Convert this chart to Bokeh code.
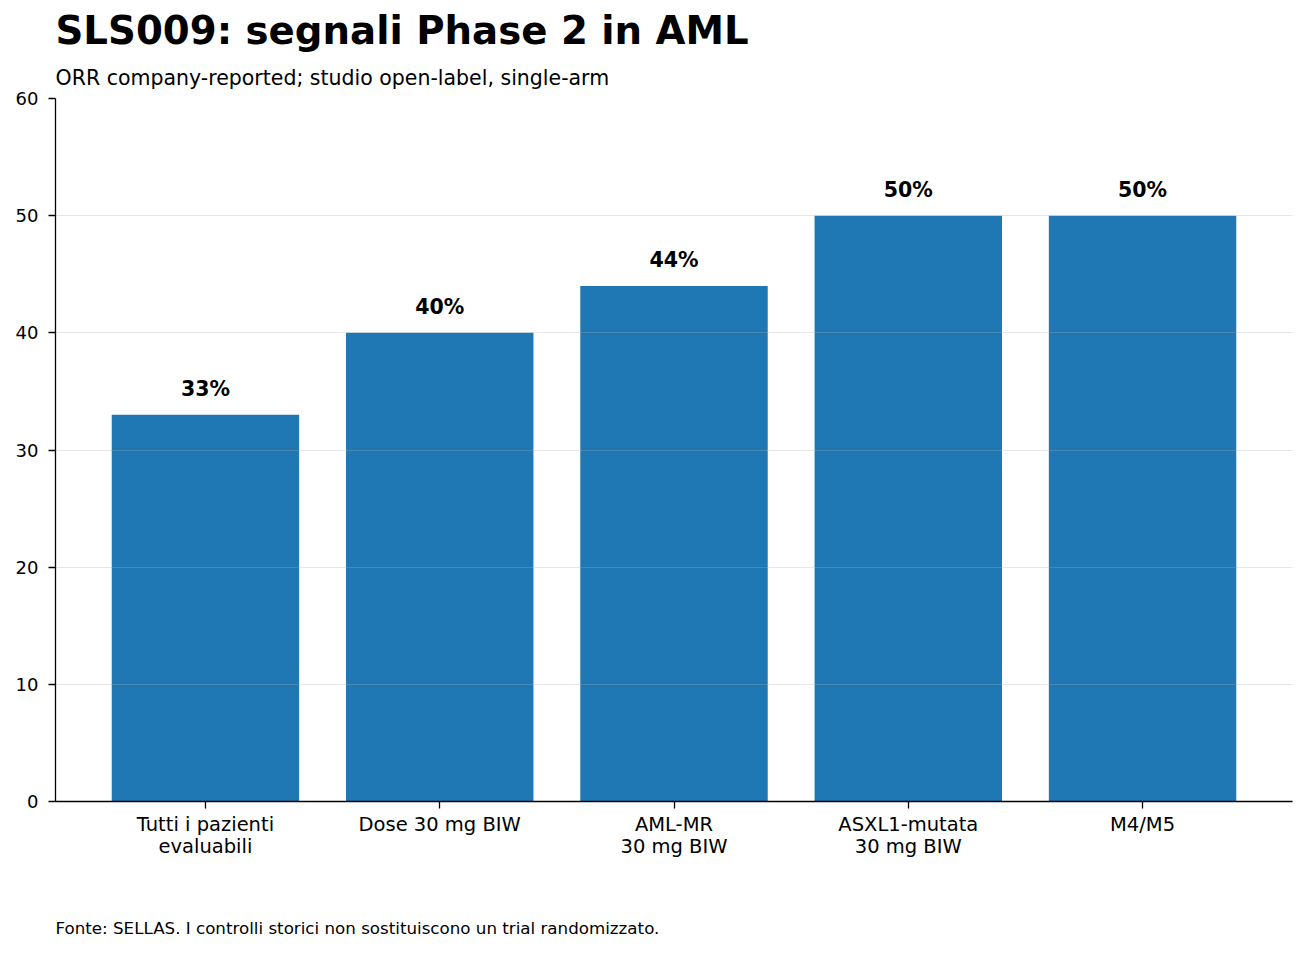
from bokeh.plotting import figure
from bokeh.models import Range1d, FixedTicker, Title, ColumnDataSource
from bokeh.core.properties import value
from bokeh.embed import file_html
from bokeh.resources import INLINE

categories = ["Tutti i pazienti\nevaluabili", "Dose 30 mg BIW", "AML-MR\n30 mg BIW",
              "ASXL1-mutata\n30 mg BIW", "M4/M5"]
orr_values = [33, 40, 44, 50, 50]
value_labels = [f"{v}%" for v in orr_values]
y_ticks = [0, 10, 20, 30, 40, 50, 60]

title_text = "SLS009: segnali Phase 2 in AML"
subtitle_text = "ORR company-reported; studio open-label, single-arm"
footer_text = "Fonte: SELLAS. I controlli storici non sostituiscono un trial randomizzato."

FONT = "DejaVu Sans"
BAR_COLOR = "#1f77b4"

idx = list(range(len(categories)))
src = ColumnDataSource(dict(x=idx, top=orr_values, lab=value_labels))

p = figure(width=1300, height=950, frame_width=1237, frame_height=703,
           min_border_left=55, min_border_right=8, min_border_top=98, min_border_bottom=149,
           x_range=Range1d(-0.64, len(categories) - 1 + 0.64), y_range=Range1d(0, 60),
           output_backend="svg", toolbar_location=None)
p.outline_line_color = None
p.background_fill_color = "white"
p.border_fill_color = "white"
p.title.visible = False

p.vbar(x="x", top="top", width=0.8, source=src, fill_color=BAR_COLOR, line_color=None)

p.text(x="x", y="top", text="lab", source=src, text_align="center", text_baseline="alphabetic",
       y_offset=-26, text_font=value(FONT), text_font_size="20.5px", text_font_style="bold",
       text_color="black")

# axes
p.xaxis.ticker = FixedTicker(ticks=idx)
p.xaxis.major_label_overrides = {i: c for i, c in zip(idx, categories)}
p.yaxis.ticker = FixedTicker(ticks=y_ticks)
for ax in (p.xaxis[0], p.yaxis[0]):
    ax.axis_line_color = "black"
    ax.axis_line_width = 1.3
    ax.major_tick_line_color = "black"
    ax.major_tick_line_width = 1.3
    ax.major_tick_out = 7
    ax.major_tick_in = 0
    ax.minor_tick_line_color = None
    ax.major_label_text_font = FONT
    ax.major_label_text_color = "black"
p.yaxis.major_label_text_font_size = "18px"
p.xaxis.major_label_text_font_size = "19.5px"
p.xaxis.major_label_text_line_height = 0.97
p.xaxis.major_label_standoff = 4
p.yaxis.major_label_standoff = 10

p.xgrid.grid_line_color = None
p.ygrid.ticker = FixedTicker(ticks=y_ticks)
p.ygrid.grid_line_color = "#b0b0b0"
p.ygrid.grid_line_alpha = 0.3
p.ygrid.grid_line_width = 1
p.ygrid.level = "overlay"

# titles
p.add_layout(Title(text=subtitle_text, align="left", text_font=FONT, text_font_size="20.5px",
                   text_font_style="normal", text_color="black", standoff=18), "above")
p.add_layout(Title(text=title_text, align="left", text_font=FONT, text_font_size="38.7px",
                   text_font_style="bold", text_color="black", standoff=4), "above")
p.add_layout(Title(text=footer_text, align="left", text_font=FONT, text_font_size="16.7px",
                   text_font_style="normal", text_color="black", standoff=110), "below")

open("out.html", "w").write(file_html(p, INLINE))
